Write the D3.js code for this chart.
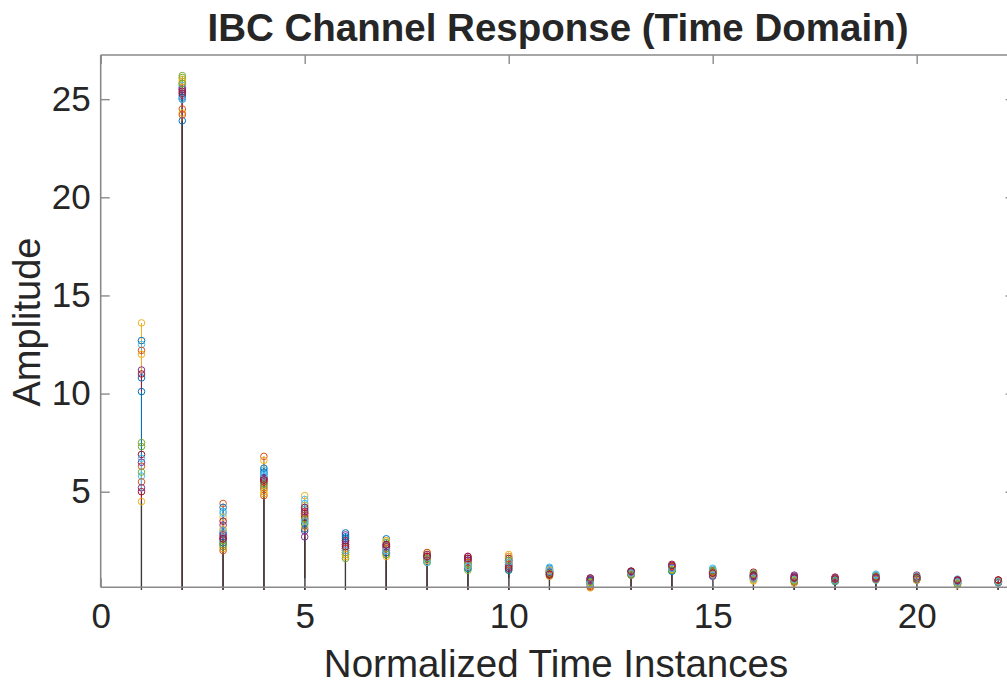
<!DOCTYPE html>
<html>
<head>
<meta charset="utf-8">
<script src="https://cdn.jsdelivr.net/npm/d3@7"></script>
<style>
  html, body { margin: 0; padding: 0; background: #fff; }
  svg { display: block; }
  text { font-family: "Liberation Sans", Arial, Helvetica, sans-serif; fill: #262626; }
</style>
</head>
<body>
<svg id="chart" width="1007" height="687"></svg>
<script>
// Channel tap amplitudes: one array per tap index, one entry per realization.
const tap1  = [12.7, 6.3, 13.6, 11.2, 7.5, 12.5, 6.9, 10.8, 12.2, 12.0, 6.5, 7.3, 5.8, 11.0, 10.1, 5.5, 4.5, 5.2, 6.0, 6.7, 5.0];
const tap2  = [23.9, 24.5, 24.3, 25.6, 26.2, 25.3, 25.5, 25.0, 25.8, 26.0, 25.2, 26.1, 25.7, 25.4, 25.1, 24.2, 25.9, 25.5, 25.8, 25.0, 25.3];
const tap3  = [2.9, 4.4, 2.1, 3.3, 2.5, 4.0, 2.7, 4.2, 2.3, 3.7, 2.6, 2.2, 3.0, 3.5, 2.4, 2.0, 3.1, 2.8, 2.3, 3.9, 2.6];
const tap4  = [5.9, 6.8, 6.6, 5.4, 5.1, 6.1, 5.6, 6.0, 4.8, 4.9, 5.7, 5.3, 5.8, 5.5, 6.2, 5.2, 5.0, 5.7, 5.4, 5.9, 5.6];
const tap5  = [4.1, 3.6, 4.8, 2.7, 3.3, 4.6, 3.9, 3.4, 3.8, 4.3, 3.0, 3.5, 4.4, 3.7, 3.1, 3.9, 3.2, 4.0, 3.6, 3.5, 4.2];
const tap6  = [2.9, 2.3, 1.7, 2.8, 1.6, 2.5, 2.1, 2.6, 2.0, 1.9, 2.4, 1.8, 2.2, 2.5, 2.7, 2.1, 1.8, 2.3, 1.9, 2.0, 2.2];
const tap7  = [2.6, 2.2, 2.5, 2.0, 1.8, 2.4, 1.9, 2.3, 2.1, 1.7, 2.2, 2.4, 2.0, 2.3, 1.9, 2.1, 2.5, 2.2, 1.8, 2.0, 2.3];
const tap8  = [1.6, 1.8, 1.9, 1.5, 1.4, 1.7, 1.6, 1.5, 1.7, 1.8, 1.6, 1.4, 1.5, 1.7, 1.6, 1.9, 1.5, 1.8, 1.6, 1.4, 1.7];
const tap9  = [1.4, 1.2, 1.5, 1.7, 1.1, 1.3, 1.7, 1.6, 1.2, 1.4, 1.5, 1.0, 1.3, 1.6, 1.1, 1.4, 1.2, 1.5, 1.3, 1.2, 1.6];
const tap10 = [1.2, 1.5, 1.8, 1.3, 1.0, 1.6, 1.4, 1.1, 1.7, 1.3, 1.5, 1.2, 1.4, 1.6, 1.0, 1.3, 1.7, 1.2, 1.5, 1.4, 1.1];
const tap11 = [1.1, 0.8, 0.9, 1.0, 0.7, 1.15, 0.9, 0.8, 1.0, 0.7, 0.95, 0.85, 1.05, 0.75, 0.9, 0.8, 1.0, 0.9, 0.85, 0.95, 0.8];
const tap12 = [0.5, 0.2, 0.1, 0.6, 0.4, 0.3, 0.55, 0.45, 0.35, 0.25, 0.5, 0.4, 0.6, 0.3, 0.45, 0.15, 0.35, 0.5, 0.4, 0.3, 0.6];
const tap13 = [0.85, 0.9, 0.8, 0.75, 0.85, 0.95, 0.9, 0.8, 0.85, 0.9, 0.8, 0.75, 0.85, 0.95, 0.9, 0.8, 0.85, 0.9, 0.8, 0.85, 0.95];
const tap14 = [1.05, 1.15, 1.0, 1.2, 1.1, 0.95, 1.3, 1.1, 1.2, 1.05, 1.15, 1.0, 1.25, 1.1, 0.95, 1.2, 1.05, 1.15, 1.0, 1.1, 1.25];
const tap15 = [0.9, 0.8, 1.0, 0.75, 0.85, 1.1, 0.95, 0.7, 0.85, 0.9, 0.8, 1.0, 0.75, 0.95, 0.85, 0.9, 0.8, 0.7, 0.95, 1.05, 0.85];
const tap16 = [0.6, 0.7, 0.5, 0.8, 0.65, 0.55, 0.9, 0.75, 0.6, 0.45, 0.7, 0.8, 0.55, 0.65, 0.75, 0.6, 0.5, 0.7, 0.85, 0.6, 0.75];
const tap17 = [0.5, 0.6, 0.4, 0.7, 0.55, 0.45, 0.65, 0.5, 0.6, 0.35, 0.75, 0.5, 0.45, 0.6, 0.55, 0.4, 0.5, 0.65, 0.45, 0.55, 0.6];
const tap18 = [0.45, 0.5, 0.55, 0.6, 0.45, 0.5, 0.65, 0.42, 0.55, 0.5, 0.6, 0.45, 0.5, 0.55, 0.48, 0.52, 0.58, 0.6, 0.45, 0.5, 0.55];
const tap19 = [0.7, 0.6, 0.55, 0.65, 0.5, 0.8, 0.6, 0.7, 0.55, 0.65, 0.6, 0.75, 0.5, 0.7, 0.6, 0.55, 0.65, 0.6, 0.7, 0.75, 0.65];
const tap20 = [0.55, 0.6, 0.5, 0.65, 0.55, 0.6, 0.75, 0.5, 0.55, 0.6, 0.65, 0.5, 0.7, 0.55, 0.6, 0.65, 0.5, 0.55, 0.6, 0.7, 0.65];
const tap21 = [0.35, 0.4, 0.3, 0.45, 0.5, 0.55, 0.35, 0.4, 0.3, 0.25, 0.45, 0.4, 0.35, 0.5, 0.3, 0.4, 0.35, 0.45, 0.3, 0.4, 0.5];
const tap22 = [0.4, 0.45, 0.35, 0.4, 0.38, 0.42, 0.5, 0.4, 0.45, 0.38, 0.42, 0.4, 0.35, 0.48, 0.42, 0.4, 0.45, 0.38, 0.4, 0.42, 0.5];

const taps = [tap1, tap2, tap3, tap4, tap5, tap6, tap7, tap8, tap9, tap10, tap11,
              tap12, tap13, tap14, tap15, tap16, tap17, tap18, tap19, tap20, tap21, tap22];
const tapIndex = [1, 2, 3, 4, 5, 6, 7, 8, 9, 10, 11, 12, 13, 14, 15, 16, 17, 18, 19, 20, 21, 22];

const xTicks = [0, 5, 10, 15, 20];
const yTicks = [5, 10, 15, 20, 25];
const seriesColors = ["#0072BD", "#D95319", "#EDB120", "#7E2F8E", "#77AC30", "#4DBEEE", "#A2142F"];

const svg = d3.select("#chart");
const plotLeft = 100.7, plotRight = 1014.6, plotTop = 55, plotBottom = 587.3;

const x = d3.scaleLinear().domain([0, 22.4]).range([plotLeft, plotRight]);
const y = d3.scaleLinear().domain([0.13, 27.25]).range([plotBottom, plotTop]);

const nSeries = tap1.length;
const series = d3.range(nSeries).map(s => tapIndex.map((t, i) => ({ t, v: taps[i][s] })));

// stems, one colour per realization
const stems = svg.append("g");
series.forEach((pts, s) => {
  stems.selectAll(null).data(pts).join("line")
    .attr("x1", d => x(d.t)).attr("x2", d => x(d.t))
    .attr("y1", y(0)).attr("y2", d => y(d.v))
    .attr("stroke", seriesColors[s % seriesColors.length])
    .attr("stroke-width", 1);
});

// dark shared stem below the lowest realization at each tap
svg.append("g").selectAll("line").data(tapIndex).join("line")
  .attr("x1", t => x(t)).attr("x2", t => x(t))
  .attr("y1", y(0)).attr("y2", (t, i) => y(d3.min(taps[i])))
  .attr("stroke", "#3a3a3a").attr("stroke-width", 1.2);

// open circle markers
const marks = svg.append("g");
series.forEach((pts, s) => {
  marks.selectAll(null).data(pts).join("circle")
    .attr("cx", d => x(d.t)).attr("cy", d => y(d.v)).attr("r", 3.3)
    .attr("fill", "none")
    .attr("stroke", seriesColors[s % seriesColors.length])
    .attr("stroke-width", 1);
});

// axes box
const axisColor = "#8a8a8a";
const box = svg.append("g").attr("stroke", axisColor).attr("stroke-width", 1.6).attr("fill", "none");
box.append("line").attr("x1", plotLeft).attr("x2", plotRight).attr("y1", plotBottom).attr("y2", plotBottom);
box.append("line").attr("x1", plotLeft).attr("x2", plotRight).attr("y1", plotTop).attr("y2", plotTop);
box.append("line").attr("x1", plotLeft).attr("x2", plotLeft).attr("y1", plotTop).attr("y2", plotBottom);
box.append("line").attr("x1", plotRight).attr("x2", plotRight).attr("y1", plotTop).attr("y2", plotBottom);

const styleAxis = g => {
  g.select(".domain").remove();
  g.selectAll(".tick line").attr("stroke", axisColor).attr("stroke-width", 1.4);
  g.selectAll(".tick text").attr("fill", "#262626").style("font-size", "35px")
    .style("font-family", '"Liberation Sans", Arial, sans-serif');
};

svg.append("g").attr("transform", `translate(0,${plotBottom})`)
  .call(d3.axisBottom(x).tickValues(xTicks).tickFormat(d3.format("d")).tickSizeInner(-9).tickSizeOuter(0).tickPadding(16))
  .call(styleAxis);
svg.append("g").attr("transform", `translate(0,${plotTop})`)
  .call(d3.axisTop(x).tickValues(xTicks).tickFormat("").tickSizeInner(-9).tickSizeOuter(0))
  .call(styleAxis);
svg.append("g").attr("transform", `translate(${plotLeft},0)`)
  .call(d3.axisLeft(y).tickValues(yTicks).tickFormat(d3.format("d")).tickSizeInner(-9).tickSizeOuter(0).tickPadding(10))
  .call(styleAxis);
svg.append("g").attr("transform", `translate(${plotRight},0)`)
  .call(d3.axisRight(y).tickValues(yTicks).tickFormat("").tickSizeInner(-9).tickSizeOuter(0))
  .call(styleAxis);

// titles
svg.append("text").attr("x", 558).attr("y", 41).attr("text-anchor", "middle")
  .style("font-size", "38.5px").style("font-weight", "bold").attr("fill", "#000")
  .text("IBC Channel Response (Time Domain)");
svg.append("text").attr("x", 556).attr("y", 677).attr("text-anchor", "middle")
  .style("font-size", "38.5px")
  .text("Normalized Time Instances");
svg.append("text").attr("transform", "translate(40,322) rotate(-90)").attr("text-anchor", "middle")
  .style("font-size", "38px")
  .text("Amplitude");
</script>
</body>
</html>
